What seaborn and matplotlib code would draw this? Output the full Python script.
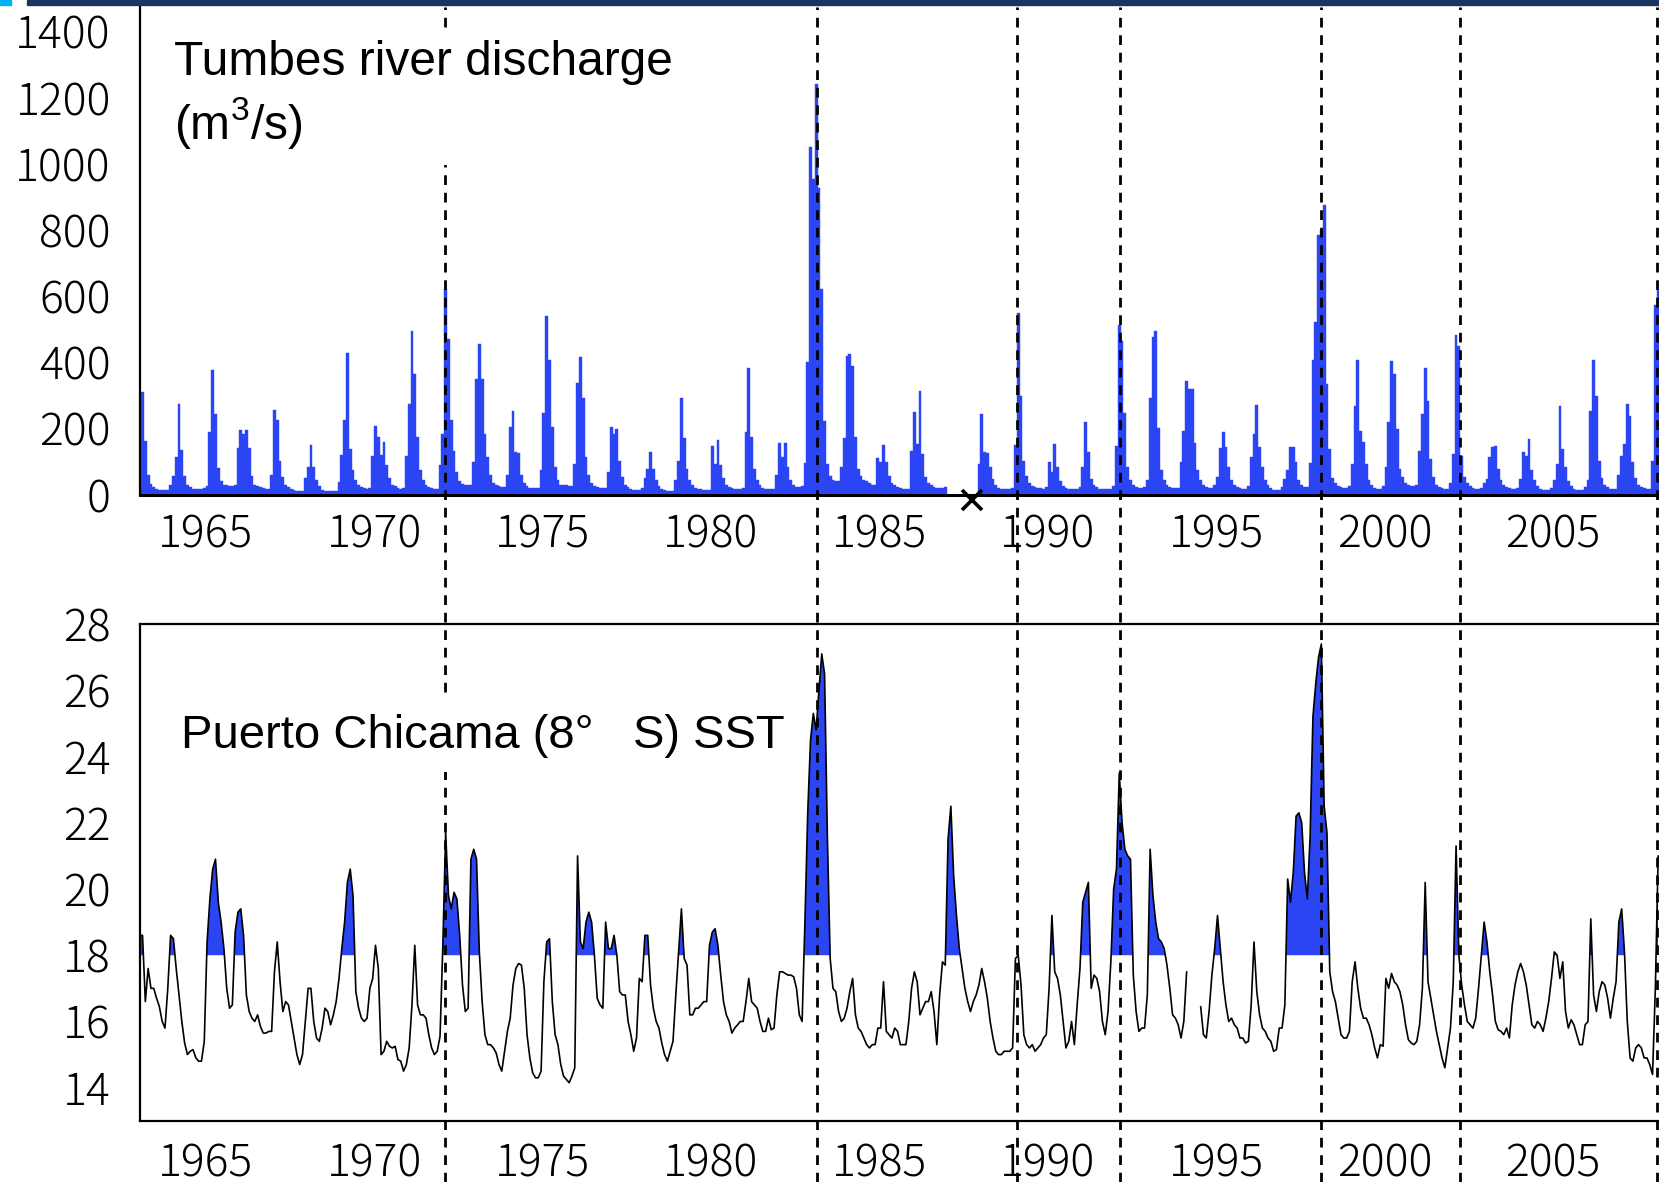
import numpy as np
import pandas as pd
import matplotlib.pyplot as plt
import seaborn as sns
from matplotlib.lines import Line2D
from matplotlib.patches import Rectangle
from matplotlib.transforms import blended_transform_factory, offset_copy

nan = np.nan

# Tumbes river discharge, monthly means (m3/s), starting Jan 1963
q_1963_1972 = [
    173, 310, 162, 59, 32, 22, 18, 15, 14, 13, 13, 30,
    55, 115, 275, 135, 55, 28, 22, 18, 18, 18, 18, 20,
    25, 190, 378, 243, 80, 40, 30, 28, 25, 25, 30, 140,
    195, 183, 195, 140, 55, 30, 25, 22, 20, 18, 18, 58,
    255, 225, 103, 53, 30, 22, 18, 15, 12, 12, 12, 50,
    83, 150, 83, 43, 25, 15, 12, 10, 10, 10, 10, 38,
    120, 225, 428, 138, 73, 43, 28, 22, 20, 18, 20, 118,
    208, 173, 120, 158, 90, 50, 30, 25, 20, 18, 20, 118,
    273, 495, 363, 173, 73, 45, 30, 22, 20, 18, 18, 88,
    183, 620, 470, 225, 133, 68, 40, 33, 30, 30, 28, 100,
]
q_1973_1982 = [
    348, 455, 350, 183, 113, 58, 35, 28, 25, 22, 22, 60,
    205, 253, 128, 125, 58, 35, 25, 20, 20, 20, 20, 73,
    248, 540, 408, 203, 83, 45, 30, 28, 28, 25, 25, 93,
    338, 415, 293, 113, 58, 35, 25, 22, 20, 20, 20, 68,
    203, 183, 198, 103, 53, 30, 22, 18, 15, 15, 15, 20,
    50, 78, 130, 78, 43, 25, 18, 15, 12, 12, 12, 43,
    103, 293, 170, 78, 43, 28, 20, 18, 18, 15, 15, 15,
    148, 93, 165, 88, 50, 30, 22, 20, 18, 18, 18, 20,
    190, 383, 173, 78, 43, 28, 20, 18, 18, 18, 18, 60,
    155, 115, 155, 83, 45, 28, 22, 22, 25, 95, 400, 1052,
]
q_1983_1992 = [
    955, 1240, 928, 620, 221, 93, 55, 45, 40, 40, 83, 170,
    420, 425, 388, 173, 78, 55, 45, 40, 35, 30, 28, 110,
    100, 150, 100, 55, 35, 28, 22, 20, 18, 18, 18, 133,
    250, 153, 313, 123, 53, 35, 28, 22, 20, 20, 20, 22,
    nan, nan, nan, nan, nan, nan, nan, nan, nan, nan, nan, 93,
    243, 128, 125, 83, 48, 28, 20, 18, 18, 18, 18, 20,
    150, 548, 298, 103, 55, 35, 25, 22, 20, 20, 18, 22,
    98, 68, 153, 83, 40, 25, 20, 18, 18, 18, 18, 22,
    83, 218, 128, 48, 30, 22, 18, 18, 18, 18, 18, 25,
    148, 513, 463, 248, 83, 45, 28, 22, 20, 20, 22, 45,
]
q_1993_2002 = [
    292, 475, 494, 200, 73, 43, 28, 22, 20, 20, 20, 100,
    193, 343, 320, 318, 155, 73, 43, 28, 22, 20, 20, 30,
    53, 140, 190, 143, 83, 45, 28, 22, 20, 18, 18, 25,
    113, 183, 271, 143, 83, 45, 28, 20, 15, 15, 15, 22,
    48, 73, 143, 143, 98, 43, 28, 22, 22, 95, 406, 523,
    785, 800, 875, 333, 138, 50, 35, 25, 22, 20, 20, 25,
    93, 268, 406, 193, 158, 93, 43, 28, 20, 18, 18, 25,
    83, 220, 405, 365, 198, 78, 53, 35, 28, 25, 25, 30,
    133, 245, 383, 283, 108, 53, 30, 22, 20, 18, 18, 35,
    123, 483, 448, 118, 53, 35, 25, 20, 18, 18, 20, 35,
]
q_2003_2008 = [
    48, 113, 143, 148, 78, 45, 30, 22, 20, 18, 18, 20,
    48, 130, 118, 168, 73, 43, 25, 18, 15, 15, 15, 20,
    43, 93, 268, 138, 83, 40, 25, 18, 15, 15, 15, 22,
    43, 253, 408, 298, 103, 50, 30, 22, 18, 18, 18, 60,
    118, 153, 273, 238, 98, 50, 30, 22, 20, 18, 18, 103,
    573, 620,
]

# Puerto Chicama SST, monthly means (deg C), starting Jan 1963
sst_1963_1972 = [
    18.6, 18.6, 16.6, 17.6, 17.0, 17.0, 16.7, 16.45, 16.0, 15.8, 17.0, 18.6,
    18.5, 17.6, 16.8, 16.0, 15.35, 15.0, 15.1, 15.15, 14.9, 14.8, 14.8, 15.4,
    18.4, 19.7, 20.6, 20.9, 19.6, 19.0, 18.2, 17.0, 16.4, 16.5, 18.7, 19.3,
    19.4, 18.6, 16.8, 16.3, 16.1, 16.0, 16.2, 15.85, 15.65, 15.65, 15.7, 15.7,
    17.5, 18.4, 17.2, 16.3, 16.6, 16.5, 16.0, 15.5, 15.0, 14.7, 15.0, 16.0,
    17.0, 17.0, 16.0, 15.5, 15.4, 15.8, 16.4, 16.3, 15.9, 16.2, 16.6, 17.3,
    18.2, 19.0, 20.2, 20.6, 19.8, 16.9, 16.4, 16.1, 16.0, 16.1, 17.0, 17.3,
    18.3, 17.6, 15.0, 15.1, 15.4, 15.25, 15.2, 15.25, 14.85, 14.8, 14.5, 14.7,
    15.2, 16.5, 18.3, 16.5, 16.2, 16.2, 16.1, 15.6, 15.2, 15.0, 15.1, 15.55,
    18.3, 21.7, 19.8, 19.4, 19.9, 19.7, 18.6, 17.1, 16.3, 16.4, 20.9, 21.2,
]
sst_1973_1982 = [
    20.9, 18.1, 16.6, 15.6, 15.3, 15.3, 15.2, 15.05, 14.7, 14.5, 15.1, 15.7,
    16.1, 17.1, 17.6, 17.75, 17.7, 17.0, 15.6, 14.9, 14.45, 14.3, 14.3, 14.5,
    17.2, 18.4, 18.5, 16.6, 15.6, 15.3, 14.7, 14.35, 14.25, 14.15, 14.35, 14.6,
    21.0, 18.4, 18.2, 19.0, 19.3, 19.0, 18.0, 16.7, 16.5, 16.4, 19.0, 18.2,
    18.2, 18.6, 18.0, 16.9, 16.8, 16.8, 16.0, 15.6, 15.1, 15.5, 17.3, 17.2,
    18.6, 18.6, 17.1, 16.4, 16.0, 15.8, 15.35, 15.0, 14.8, 15.1, 15.4, 16.8,
    18.1, 19.4, 17.9, 17.7, 16.2, 16.2, 16.4, 16.4, 16.5, 16.6, 16.6, 18.3,
    18.7, 18.8, 18.3, 17.4, 16.6, 16.2, 16.0, 15.65, 15.8, 15.9, 16.0, 16.0,
    16.6, 17.3, 16.6, 16.5, 16.4, 16.0, 15.7, 15.7, 16.1, 15.75, 15.8, 16.8,
    17.5, 17.5, 17.45, 17.4, 17.4, 17.35, 17.0, 16.2, 16.0, 19.0, 22.3, 24.5,
]
sst_1983_1992 = [
    25.3, 24.8, 26.0, 27.1, 26.5, 21.6, 17.9, 17.0, 16.9, 16.3, 16.0, 16.1,
    16.4, 16.9, 17.3, 16.2, 15.8, 15.7, 15.5, 15.3, 15.2, 15.3, 15.3, 15.8,
    15.8, 17.2, 15.7, 15.6, 15.5, 15.8, 15.7, 15.3, 15.3, 15.3, 16.0, 17.0,
    17.5, 17.2, 16.2, 16.4, 16.6, 16.6, 16.9, 16.3, 15.3, 16.8, 17.8, 17.7,
    21.5, 22.5, 20.4, 19.2, 18.2, 17.6, 17.0, 16.6, 16.3, 16.6, 16.8, 17.1,
    17.6, 17.2, 16.7, 16.0, 15.5, 15.1, 15.0, 15.0, 15.1, 15.1, 15.1, 15.2,
    17.9, 18.0, 17.1, 15.6, 15.3, 15.2, 15.3, 15.1, 15.2, 15.3, 15.5, 15.6,
    17.0, 19.2, 17.5, 17.3, 16.8, 16.0, 15.2, 15.4, 16.0, 15.3, 16.5, 17.6,
    19.6, 19.9, 20.2, 17.0, 17.4, 17.3, 16.9, 16.0, 15.6, 16.3, 17.8, 20.0,
    20.6, 23.5, 22.0, 21.2, 21.0, 20.9, 17.4, 16.3, 15.7, 15.8, 15.8, 16.8,
]
sst_1993_2002 = [
    21.2, 19.8, 19.0, 18.5, 18.4, 18.2, 17.7, 17.0, 16.2, 16.1, 15.9, 15.5,
    16.0, 17.5, nan, nan, nan, nan, 16.45, 15.6, 15.5, 16.3, 17.4, 18.2,
    19.2, 18.2, 17.2, 16.5, 16.0, 16.1, 15.9, 15.8, 15.5, 15.5, 15.35, 15.4,
    16.5, 18.4, 16.9, 16.2, 15.8, 15.7, 15.5, 15.4, 15.1, 15.15, 15.8, 15.8,
    16.5, 20.3, 19.6, 20.5, 22.2, 22.3, 22.0, 20.5, 19.7, 21.6, 25.2, 26.2,
    27.0, 27.4, 22.5, 21.7, 17.5, 16.9, 16.6, 16.1, 15.6, 15.5, 15.5, 15.7,
    17.2, 17.8, 17.0, 16.4, 16.1, 16.1, 15.9, 15.6, 15.2, 14.9, 15.3, 15.25,
    17.3, 17.0, 17.45, 17.2, 17.1, 16.9, 16.5, 15.9, 15.45, 15.35, 15.3, 15.4,
    15.9, 17.0, 20.2, 17.2, 16.7, 16.2, 15.7, 15.3, 14.9, 14.6, 15.2, 15.8,
    17.2, 21.3, 18.0, 17.1, 16.5, 16.0, 15.9, 15.8, 16.1, 17.0, 18.0, 19.0,
]
sst_2003_2008 = [
    18.4, 17.5, 16.8, 16.0, 15.75, 15.7, 15.6, 15.8, 15.5, 16.5, 17.1, 17.5,
    17.75, 17.5, 17.1, 16.5, 15.9, 15.8, 16.0, 15.9, 15.7, 16.1, 16.6, 17.3,
    18.1, 18.0, 17.3, 17.8, 16.3, 15.8, 16.05, 15.9, 15.6, 15.3, 15.3, 15.9,
    16.0, 19.1, 16.8, 16.3, 16.9, 17.2, 17.1, 16.7, 16.1, 16.7, 17.2, 19.0,
    19.4, 18.1, 16.0, 14.9, 14.8, 15.2, 15.3, 15.2, 14.9, 14.9, 14.7, 14.4,
    17.0, 21.0,
]

start_year = 1963
event_years = [1972.12, 1983.15, 1989.09, 1992.16, 1998.12, 2002.24, 2008.10]
missing_mark_x = [1987.75]
year_ticks = [1965, 1970, 1975, 1980, 1985, 1990, 1995, 2000, 2005]
q_ticks = [0, 200, 400, 600, 800, 1000, 1200, 1400]
sst_ticks = [14, 16, 18, 20, 22, 24, 26, 28]
sst_threshold = 18

BLUE = "#2b45f4"
W, H = 1659, 1182

sns.set_style("white")
plt.rcParams["font.family"] = ["Noto Sans CJK JP", "DejaVu Sans"]
plt.rcParams["font.weight"] = "light"
plt.rcParams["mathtext.fontset"] = "custom"
plt.rcParams["mathtext.rm"] = "Liberation Sans"
plt.rcParams["mathtext.it"] = "Liberation Sans"
plt.rcParams["mathtext.default"] = "regular"
label_font = ["Liberation Sans", "Noto Sans CJK JP"]

q = np.array(q_1963_1972 + q_1973_1982 + q_1983_1992 + q_1993_2002 + q_2003_2008, dtype=float)
sst = np.array(sst_1963_1972 + sst_1973_1982 + sst_1983_1992 + sst_1993_2002 + sst_2003_2008, dtype=float)

n_months = len(q)
df_q = pd.DataFrame({"t": start_year + (np.arange(n_months) + 0.5) / 12, "q": q}).dropna()
ts = start_year + (np.arange(len(sst)) + 0.5) / 12

fig = plt.figure(figsize=(W / 100, H / 100), dpi=100)
left = 140 / W
ax1 = fig.add_axes([left, 1 - 494.6 / H, 1 - left, 494.6 / H])
ax2 = fig.add_axes([left, 1 - 1120.8 / H, 1 - left, (1120.8 - 624.1) / H])

# discharge bars, one bin per month
sns.histplot(data=df_q, x="t", weights="q", binwidth=1 / 12,
             binrange=(start_year, start_year + n_months / 12), ax=ax1,
             color=BLUE, alpha=1, edgecolor=BLUE, linewidth=0.3)
ax1.plot(missing_mark_x, [0] * len(missing_mark_x), ls="none", marker="x", ms=15,
         mew=2.6, color="black", clip_on=False, zorder=6,
         transform=offset_copy(ax1.transData, fig=fig, y=-4, units="points"))

# SST line with warm anomalies filled
ax2.fill_between(ts, sst_threshold, sst, where=sst > sst_threshold,
                 interpolate=True, color=BLUE, lw=0, zorder=1)
valid = ~np.isnan(sst)
runs = np.split(np.arange(len(sst)), np.where(np.diff(valid.astype(int)) != 0)[0] + 1)
for r in runs:
    if valid[r[0]]:
        sns.lineplot(x=ts[r], y=sst[r], ax=ax2, color="black", linewidth=1.2,
                     estimator=None, sort=False, legend=False, zorder=3)

for ax in (ax1, ax2):
    ax.set_xlim(1963.05, 2008.15)
    ax.set_xticks(year_ticks)
    ax.set_xlabel("")
    ax.set_ylabel("")
    ax.tick_params(axis="both", direction="out", length=9, width=1.5,
                   labelsize=32, colors="black")
    ax.tick_params(axis="y", pad=12)
    ax.spines["right"].set_visible(False)
    for s in ax.spines.values():
        s.set_linewidth(1.6)
        s.set_color("black")

ax1.set_ylim(0, 1494.9)
ax1.set_yticks(q_ticks)
ax1.spines["top"].set_visible(False)
ax1.spines["bottom"].set_linewidth(2.2)
ax1.tick_params(axis="x", pad=4)

ax2.set_ylim(13, 28)
ax2.set_yticks(sst_ticks)
ax2.tick_params(axis="x", pad=6)

# event lines across both panels
tr = blended_transform_factory(ax2.transData, fig.transFigure)
for ev in event_years:
    fig.add_artist(Line2D([ev, ev], [0, 1 - 7 / H], transform=tr, color="black",
                          lw=2.0, linestyle=(0, (3.5, 2.8)), zorder=5))

box = dict(boxstyle="square,pad=0.3", fc="white", ec="none")
fig.text(174 / W, 1 - 40 / H, "Tumbes river discharge\n(m$^{3}$/s)", ha="left", va="top",
         fontsize=34.5, family=label_font, weight="normal", color="black",
         linespacing=1.22, bbox=box, zorder=10)
fig.text(181 / W, 1 - 714 / H, "Puerto Chicama (8°   S) SST", ha="left", va="top",
         fontsize=34, family=label_font, weight="normal", color="black",
         bbox=box, zorder=10)

# slide header strip
fig.add_artist(Rectangle((27 / W, 1 - 5 / H), 1, 5 / H, transform=fig.transFigure,
                         color="#1b3561", zorder=12))
fig.add_artist(Rectangle((0, 1 - 5 / H), 11 / W, 5 / H, transform=fig.transFigure,
                         color="#00b0f0", zorder=12))

fig.savefig("out.png", dpi=100)
